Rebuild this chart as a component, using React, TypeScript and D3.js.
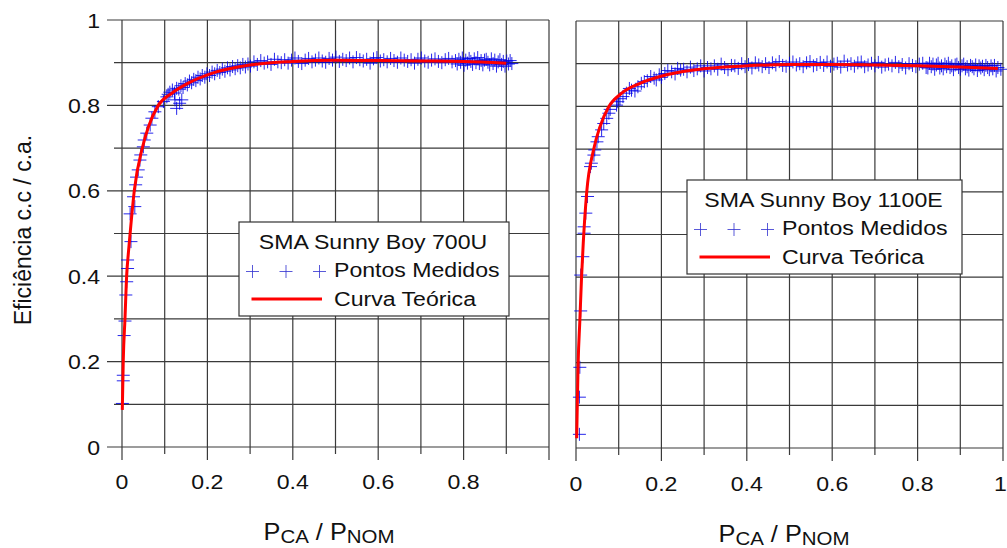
import { useEffect, useRef } from 'react'
import * as d3 from 'd3'

type Pt = [number, number]

// SMA Sunny Boy 700U - theoretical curve
const curve700U: Pt[] = [
  [0.0007, 0.087], [0.003, 0.204], [0.007, 0.301], [0.011, 0.403], [0.015, 0.455],
  [0.019, 0.5], [0.029, 0.602], [0.048, 0.702], [0.062, 0.75], [0.085, 0.8],
  [0.116, 0.828], [0.155, 0.852], [0.21, 0.875], [0.295, 0.894], [0.4, 0.903],
  [0.5, 0.906], [0.6, 0.905], [0.7, 0.904], [0.8, 0.903], [0.9, 0.899],
]

// SMA Sunny Boy 700U - measured points
const points700U: Pt[] = [
  [0.001, 0.102], [0.003, 0.155], [0.003, 0.168], [0.005, 0.261], [0.007, 0.295], [0.009, 0.356],
  [0.011, 0.387], [0.013, 0.418], [0.013, 0.438], [0.021, 0.481], [0.019, 0.546], [0.03, 0.563],
  [0.027, 0.586], [0.032, 0.614], [0.034, 0.632], [0.038, 0.649], [0.042, 0.672], [0.044, 0.684],
  [0.05, 0.703], [0.052, 0.719], [0.058, 0.735], [0.066, 0.754], [0.07, 0.77], [0.077, 0.785],
  [0.085, 0.797], [0.097, 0.809], [0.105, 0.82], [0.124, 0.813], [0.14, 0.813], [0.128, 0.793],
  [0.135, 0.805], [0.108, 0.826],
  [0.112, 0.831], [0.118, 0.836], [0.123, 0.829], [0.128, 0.84], [0.133, 0.838], [0.138, 0.846],
  [0.143, 0.842], [0.148, 0.851], [0.153, 0.848], [0.158, 0.857], [0.163, 0.853], [0.168, 0.861],
  [0.173, 0.858], [0.178, 0.866], [0.183, 0.862], [0.188, 0.87], [0.194, 0.866], [0.199, 0.874],
  [0.205, 0.87], [0.211, 0.878], [0.217, 0.874], [0.223, 0.882], [0.229, 0.877], [0.235, 0.885],
  [0.241, 0.88], [0.247, 0.888], [0.253, 0.883], [0.259, 0.891], [0.265, 0.886], [0.271, 0.893],
  [0.277, 0.888], [0.283, 0.896], [0.289, 0.89], [0.295, 0.897], [0.301, 0.892],
  [0.309, 0.902], [0.317, 0.896], [0.325, 0.905], [0.333, 0.899], [0.341, 0.902], [0.349, 0.896],
  [0.357, 0.908], [0.365, 0.902], [0.373, 0.9], [0.381, 0.907], [0.389, 0.899], [0.397, 0.906],
  [0.405, 0.911], [0.413, 0.903], [0.421, 0.898], [0.429, 0.906], [0.437, 0.91], [0.445, 0.902],
  [0.453, 0.906], [0.461, 0.911], [0.469, 0.904], [0.477, 0.901], [0.485, 0.91], [0.493, 0.906],
  [0.501, 0.913], [0.509, 0.903], [0.517, 0.908], [0.525, 0.905], [0.533, 0.911], [0.541, 0.902],
  [0.549, 0.912], [0.557, 0.907], [0.565, 0.904], [0.573, 0.908], [0.581, 0.899], [0.589, 0.909],
  [0.597, 0.912], [0.605, 0.904], [0.613, 0.907], [0.621, 0.902], [0.629, 0.91], [0.637, 0.905],
  [0.645, 0.901], [0.653, 0.911], [0.661, 0.906], [0.669, 0.903], [0.677, 0.907], [0.685, 0.899],
  [0.693, 0.908], [0.701, 0.911], [0.709, 0.904], [0.717, 0.901], [0.725, 0.906], [0.733, 0.909],
  [0.741, 0.903], [0.749, 0.9], [0.757, 0.907], [0.765, 0.91], [0.773, 0.902], [0.781, 0.905],
  [0.785, 0.897], [0.789, 0.908], [0.793, 0.901], [0.797, 0.911], [0.801, 0.894], [0.805, 0.906],
  [0.809, 0.899], [0.813, 0.91], [0.817, 0.903], [0.821, 0.896], [0.825, 0.909], [0.829, 0.9],
  [0.833, 0.912], [0.837, 0.898], [0.841, 0.905], [0.845, 0.895], [0.849, 0.906], [0.853, 0.908],
  [0.857, 0.901], [0.861, 0.895], [0.865, 0.909], [0.869, 0.898], [0.873, 0.906], [0.877, 0.892],
  [0.881, 0.902], [0.885, 0.907], [0.889, 0.896], [0.893, 0.903], [0.897, 0.892], [0.901, 0.904],
  [0.905, 0.897], [0.909, 0.905], [0.913, 0.898],
]

// SMA Sunny Boy 1100E - theoretical curve
const curve1100E: Pt[] = [
  [0.0016, 0.023], [0.003, 0.1], [0.005, 0.198], [0.009, 0.298], [0.013, 0.4], [0.017, 0.48],
  [0.025, 0.598], [0.041, 0.698], [0.056, 0.752], [0.076, 0.798], [0.107, 0.831], [0.15, 0.854],
  [0.212, 0.874], [0.306, 0.889], [0.4, 0.895], [0.5, 0.898], [0.6, 0.898], [0.7, 0.897],
  [0.8, 0.895], [0.9, 0.892], [0.988, 0.889],
]

// SMA Sunny Boy 1100E - measured points
const points1100E: Pt[] = [
  [0.008, 0.032], [0.008, 0.119], [0.009, 0.189], [0.011, 0.321], [0.011, 0.405], [0.016, 0.448],
  [0.019, 0.503], [0.019, 0.518], [0.023, 0.55], [0.027, 0.589], [0.034, 0.659], [0.036, 0.667],
  [0.042, 0.686], [0.044, 0.698], [0.049, 0.717], [0.052, 0.729], [0.06, 0.745], [0.065, 0.76],
  [0.072, 0.772], [0.077, 0.784], [0.08, 0.793], [0.095, 0.803], [0.098, 0.811], [0.11, 0.823],
  [0.118, 0.831], [0.13, 0.838], [0.145, 0.846], [0.153, 0.854], [0.167, 0.86], [0.183, 0.866],
  [0.195, 0.874], [0.208, 0.877], [0.224, 0.881], [0.245, 0.885], [0.103, 0.818], [0.125, 0.842],
  [0.138, 0.836], [0.16, 0.858], [0.175, 0.87], [0.188, 0.862], [0.2, 0.868], [0.215, 0.884],
  [0.232, 0.876], [0.238, 0.889],
  [0.252, 0.887], [0.26, 0.881], [0.268, 0.892], [0.276, 0.884], [0.284, 0.888], [0.292, 0.895],
  [0.3, 0.883], [0.308, 0.891], [0.316, 0.888], [0.324, 0.895], [0.332, 0.887], [0.34, 0.899],
  [0.348, 0.891], [0.356, 0.886], [0.364, 0.896], [0.372, 0.895], [0.38, 0.889], [0.388, 0.9],
  [0.396, 0.893], [0.404, 0.898], [0.412, 0.89], [0.42, 0.902], [0.428, 0.897], [0.436, 0.893],
  [0.444, 0.9], [0.452, 0.891], [0.46, 0.902], [0.468, 0.897], [0.476, 0.905], [0.484, 0.896],
  [0.492, 0.894], [0.5, 0.901], [0.508, 0.904], [0.516, 0.897], [0.524, 0.9], [0.532, 0.893],
  [0.54, 0.902], [0.548, 0.905], [0.556, 0.895], [0.564, 0.898], [0.572, 0.903], [0.58, 0.896],
  [0.588, 0.904], [0.596, 0.894], [0.604, 0.899], [0.612, 0.901], [0.62, 0.892], [0.628, 0.906],
  [0.636, 0.897], [0.644, 0.9], [0.652, 0.894], [0.66, 0.902], [0.668, 0.904], [0.676, 0.893],
  [0.684, 0.897], [0.692, 0.901], [0.7, 0.895], [0.708, 0.903], [0.716, 0.892], [0.724, 0.897],
  [0.732, 0.899], [0.74, 0.895], [0.748, 0.903], [0.756, 0.893], [0.764, 0.898], [0.772, 0.89],
  [0.78, 0.9], [0.788, 0.896], [0.796, 0.893], [0.804, 0.899], [0.812, 0.901], [0.82, 0.891],
  [0.824, 0.89], [0.828, 0.901], [0.832, 0.893], [0.836, 0.899], [0.84, 0.887], [0.844, 0.897],
  [0.848, 0.901], [0.852, 0.89], [0.856, 0.895], [0.86, 0.888], [0.864, 0.899], [0.868, 0.893],
  [0.872, 0.901], [0.876, 0.891], [0.88, 0.895], [0.884, 0.886], [0.888, 0.897], [0.892, 0.899],
  [0.896, 0.891], [0.9, 0.887], [0.904, 0.895], [0.908, 0.899], [0.912, 0.888], [0.916, 0.893],
  [0.92, 0.885], [0.924, 0.896], [0.928, 0.893], [0.932, 0.888], [0.936, 0.897], [0.94, 0.884],
  [0.944, 0.895], [0.948, 0.89], [0.952, 0.894], [0.956, 0.886], [0.96, 0.896], [0.964, 0.891],
  [0.968, 0.886], [0.972, 0.895], [0.976, 0.888], [0.98, 0.896], [0.984, 0.883], [0.988, 0.891],
  [0.995, 0.887],
]

const gridValues = [0, 0.1, 0.2, 0.3, 0.4, 0.5, 0.6, 0.7, 0.8, 0.9, 1]
const yTickLabels = [0, 0.2, 0.4, 0.6, 0.8, 1]
const xTickLabelsLeft = [0, 0.2, 0.4, 0.6, 0.8]
const xTickLabelsRight = [0, 0.2, 0.4, 0.6, 0.8, 1]
const yTitle = 'Eficiência c.c / c.a.'
const seriesNames = ['Pontos Medidos', 'Curva Teórica']

const FONT = '"Liberation Sans", Arial, sans-serif'
const GRID = '#3a3a3a'
const BLUE = '#0000e6'
const RED = '#ff0000'

const isMajor = (d: number) => Math.round(d * 10) % 2 === 0
const fmt = (d: number) => (d === 0 || d === 1 ? String(d) : d.toFixed(1))

function addText(g: any, x: number, y: number, str: string, size: number, anchor = 'start') {
  return g.append('text')
    .attr('transform', `translate(${x},${y}) scale(1.1,1)`)
    .attr('text-anchor', anchor)
    .attr('font-family', FONT)
    .attr('font-size', size)
    .attr('fill', '#111')
    .text(str)
}

function drawPanel(svg: any, p: any) {
  const x = d3.scaleLinear().domain([0, 1]).range([p.x0, p.x1])
  const y = d3.scaleLinear().domain([0, 1]).range([p.y0, p.y1])
  const g = svg.append('g')

  // grid + ticks
  g.selectAll('line.h').data(gridValues).enter().append('line')
    .attr('x1', (d: number) => p.yTicksOut ? x(0) - (isMajor(d) ? 15 : 8) : x(0))
    .attr('x2', x(1))
    .attr('y1', (d: number) => y(d)).attr('y2', (d: number) => y(d))
    .attr('stroke', GRID).attr('stroke-width', 1.2)
  g.selectAll('line.v').data(gridValues).enter().append('line')
    .attr('x1', (d: number) => x(d)).attr('x2', (d: number) => x(d))
    .attr('y1', y(1))
    .attr('y2', (d: number) => y(0) + (isMajor(d) ? 13 : 7))
    .attr('stroke', GRID).attr('stroke-width', 1.2)

  // tick labels (the last one pulled in a little so it stays inside the window)
  p.xLabels.forEach((d: number) => addText(g, d === 1 ? x(d) - 2.5 : x(d), p.xLabelY, fmt(d), 21, 'middle'))
  if (p.yLabels) {
    yTickLabels.forEach((d: number) => addText(g, x(0) - 22, y(d) + 7.5, fmt(d), 21, 'end'))
  }

  // measured points
  g.selectAll('path.pt').data(p.points).enter().append('path')
    .attr('d', (d: Pt) => {
      const px = x(d[0]), py = y(d[1])
      return `M${px - 6.5},${py}H${px + 6.5}M${px},${py - 6.5}V${py + 6.5}`
    })
    .attr('stroke', BLUE).attr('stroke-width', 1).attr('stroke-opacity', 0.85).attr('fill', 'none')

  // theoretical curve
  const line = d3.line<Pt>().x(d => x(d[0])).y(d => y(d[1])).curve(d3.curveMonotoneX)
  g.append('path').datum(p.curve).attr('d', line)
    .attr('fill', 'none').attr('stroke', RED).attr('stroke-width', 3)

  // x title  P_CA / P_NOM
  const t = g.append('text')
    .attr('transform', `translate(${p.titleX},${p.titleY}) scale(1.1,1)`)
    .attr('text-anchor', 'middle')
    .attr('font-family', FONT).attr('fill', '#111')
    .style('white-space', 'pre')
  t.append('tspan').attr('font-size', 23).text('P')
  t.append('tspan').attr('font-size', 18.6).attr('dy', 3).text('CA')
  t.append('tspan').attr('font-size', 23).attr('dy', -3).text(' / P')
  t.append('tspan').attr('font-size', 18.6).attr('dy', 3).text('NOM')

  // legend
  const L = p.legend
  g.append('rect').attr('x', L.x).attr('y', L.y).attr('width', L.w).attr('height', L.h)
    .attr('fill', '#fff').attr('stroke', '#333').attr('stroke-width', 1.2)
  addText(g, L.x + L.w / 2 - 1, L.y + 26.5, L.title, 21, 'middle')
  ;[13.5, 47, 80.5].forEach(dx => {
    const cx = L.x + dx, cy = L.y + 49.5
    g.append('path').attr('d', `M${cx - 6.5},${cy}H${cx + 6.5}M${cx},${cy - 6.5}V${cy + 6.5}`)
      .attr('stroke', '#3030d0').attr('stroke-width', 1).attr('stroke-opacity', 0.8)
  })
  addText(g, L.x + 95, L.y + 55, seriesNames[0], 21)
  g.append('line').attr('x1', L.x + 12.5).attr('x2', L.x + 83).attr('y1', L.y + 77).attr('y2', L.y + 77)
    .attr('stroke', RED).attr('stroke-width', 3)
  addText(g, L.x + 95, L.y + 84, seriesNames[1], 21)
}

const App = () => {
  const ref = useRef<SVGSVGElement>(null)
  useEffect(() => {
    const svg = d3.select(ref.current)
    if (svg.select('g').size()) {
      return
    }

    drawPanel(svg, {
      x0: 122, x1: 549, y0: 447, y1: 20, yTicksOut: true, yLabels: true,
      xLabels: xTickLabelsLeft, xLabelY: 489, points: points700U, curve: curve700U,
      titleX: 329, titleY: 540,
      legend: { x: 239, y: 222, w: 270, h: 94, title: 'SMA Sunny Boy 700U' },
    })
    drawPanel(svg, {
      x0: 576, x1: 1003, y0: 448, y1: 21, yTicksOut: false, yLabels: false,
      xLabels: xTickLabelsRight, xLabelY: 490.5, points: points1100E, curve: curve1100E,
      titleX: 784, titleY: 542,
      legend: { x: 687, y: 180, w: 275, h: 94, title: 'SMA Sunny Boy 1100E' },
    })

    svg.append('text')
      .attr('transform', 'translate(23,230) rotate(-90)')
      .attr('text-anchor', 'middle')
      .attr('dy', '0.35em')
      .attr('font-family', FONT).attr('font-size', 23).attr('fill', '#111')
      .text(yTitle)
  }, [])

  return (
    <svg ref={ref} width={1007} height={548}
      style={{ position: 'absolute', left: 0, top: 0, background: '#fff' }} />
  )
}

export default App
